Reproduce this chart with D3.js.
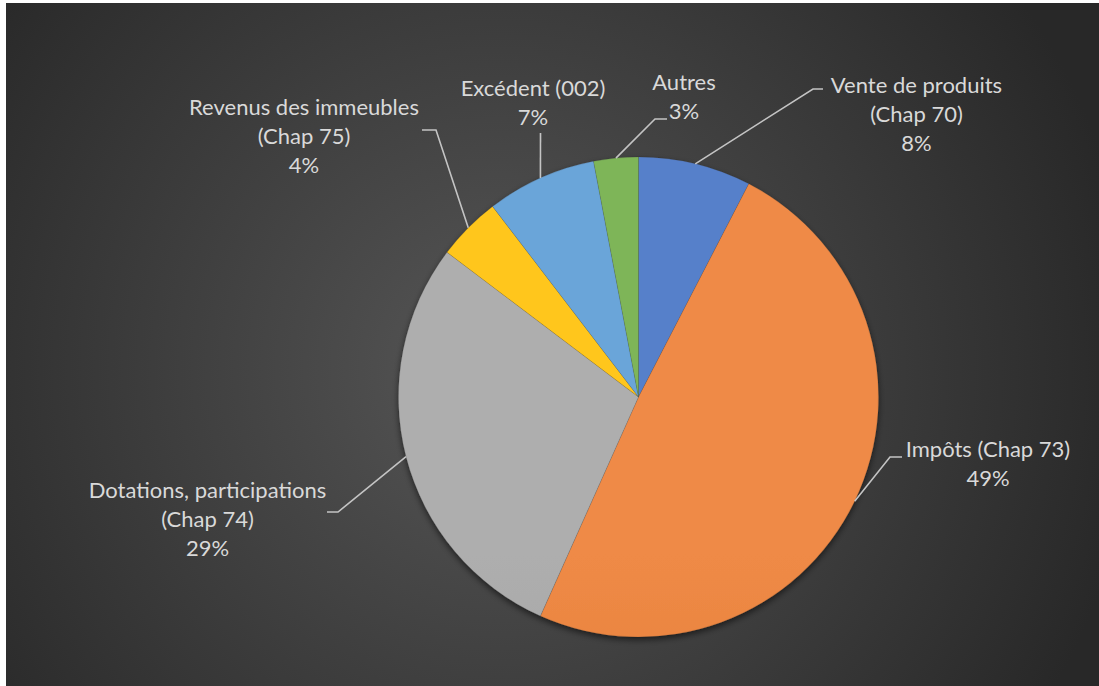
<!DOCTYPE html>
<html>
<head>
<meta charset="utf-8">
<script src="https://cdn.jsdelivr.net/npm/d3@7/dist/d3.min.js"></script>
<style>
  html, body { margin: 0; padding: 0; background: #ffffff; }
  svg { display: block; }
</style>
</head>
<body>
<script>
// ---- data ----
const categories = ["Vente de produits (Chap 70)", "Impôts (Chap 73)", "Dotations, participations (Chap 74)", "Revenus des immeubles (Chap 75)", "Excédent (002)", "Autres"];
const labelLines = [["Vente de produits", "(Chap 70)"], ["Impôts (Chap 73)"], ["Dotations, participations", "(Chap 74)"], ["Revenus des immeubles", "(Chap 75)"], ["Excédent (002)"], ["Autres"]];
const values = [7.6, 49.1, 28.6, 4.3, 7.4, 3.0];
const colors = ["#4472C4", "#ED7D31", "#A5A5A5", "#FFC000", "#5B9BD5", "#70AD47"];

// ---- layout (positions of labels and leader knees) ----
const labelLayout = [
  { x: 916.5, y: 93,  knee: [813, 89],  end: [823, 89] },
  { x: 988,   y: 457, knee: [890, 457], end: [902, 457] },
  { x: 207.5, y: 498, knee: [338, 512], end: [327, 512] },
  { x: 304,   y: 115, knee: [436, 130], end: [422, 130] },
  { x: 533,   y: 96,  knee: [540.5, 133], end: [540.5, 133] },
  { x: 684,   y: 90,  knee: [655, 119], end: [667, 119] }
];

const W = 1099, H = 686;
const cx = 638.5, cy = 397, R = 240;
const lineH = 29;

const svg = d3.select("body").append("svg").attr("width", W).attr("height", H);
const defs = svg.append("defs");

const bg = defs.append("radialGradient").attr("id", "bg")
  .attr("gradientUnits", "userSpaceOnUse")
  .attr("cx", 500).attr("cy", 370).attr("r", 640);
bg.append("stop").attr("offset", "0%").attr("stop-color", "#565656");
bg.append("stop").attr("offset", "100%").attr("stop-color", "#282828");

const shadow = defs.append("filter").attr("id", "shadow")
  .attr("x", "-10%").attr("y", "-10%").attr("width", "120%").attr("height", "120%");
shadow.append("feDropShadow").attr("dx", 0).attr("dy", 3).attr("stdDeviation", 3)
  .attr("flood-color", "#000").attr("flood-opacity", 0.55);

colors.forEach((c, i) => {
  const g = defs.append("linearGradient").attr("id", "g" + i)
    .attr("gradientUnits", "userSpaceOnUse")
    .attr("x1", 0).attr("y1", cy - R).attr("x2", 0).attr("y2", cy + R);
  g.append("stop").attr("offset", "0%").attr("stop-color", d3.interpolateRgb(c, "#ffffff")(0.1));
  g.append("stop").attr("offset", "100%").attr("stop-color", d3.interpolateRgb(c, "#000000")(0.08));
});

// background
svg.append("rect").attr("x", 6).attr("y", 3).attr("width", W - 6).attr("height", H - 3)
  .attr("fill", "url(#bg)");

const total = d3.sum(values);
const pie = d3.pie().sort(null).value(d => d)(values);
const arc = d3.arc().innerRadius(0).outerRadius(R);

const gPie = svg.append("g").attr("transform", `translate(${cx},${cy})`).attr("filter", "url(#shadow)");
gPie.selectAll("path").data(pie).enter().append("path")
  .attr("d", arc)
  .attr("fill", (d, i) => `url(#g${i})`)
  .attr("stroke", "rgba(40,40,40,0.2)")
  .attr("stroke-width", 0.6);

// leader lines
const gLines = svg.append("g");
pie.forEach((d, i) => {
  const a = (d.startAngle + d.endAngle) / 2;
  const p0 = [cx + R * Math.sin(a), cy - R * Math.cos(a)];
  const L = labelLayout[i];
  gLines.append("path")
    .attr("d", d3.line()([p0, L.knee, L.end]))
    .attr("fill", "none")
    .attr("stroke", "#c4c4c4")
    .attr("stroke-width", 1.6);
});

// labels
const gLab = svg.append("g")
  .attr("font-family", "Lato, 'Open Sans', sans-serif")
  .attr("font-size", 22)
  .attr("fill", "#d9d9d9")
  .attr("text-anchor", "middle");
pie.forEach((d, i) => {
  const L = labelLayout[i];
  const lines = labelLines[i].concat([Math.round(values[i] / total * 100) + "%"]);
  const t = gLab.append("text").attr("x", L.x).attr("y", L.y);
  lines.forEach((s, k) => {
    t.append("tspan").attr("x", L.x).attr("y", L.y + k * lineH).text(s);
  });
});
</script>
</body>
</html>
